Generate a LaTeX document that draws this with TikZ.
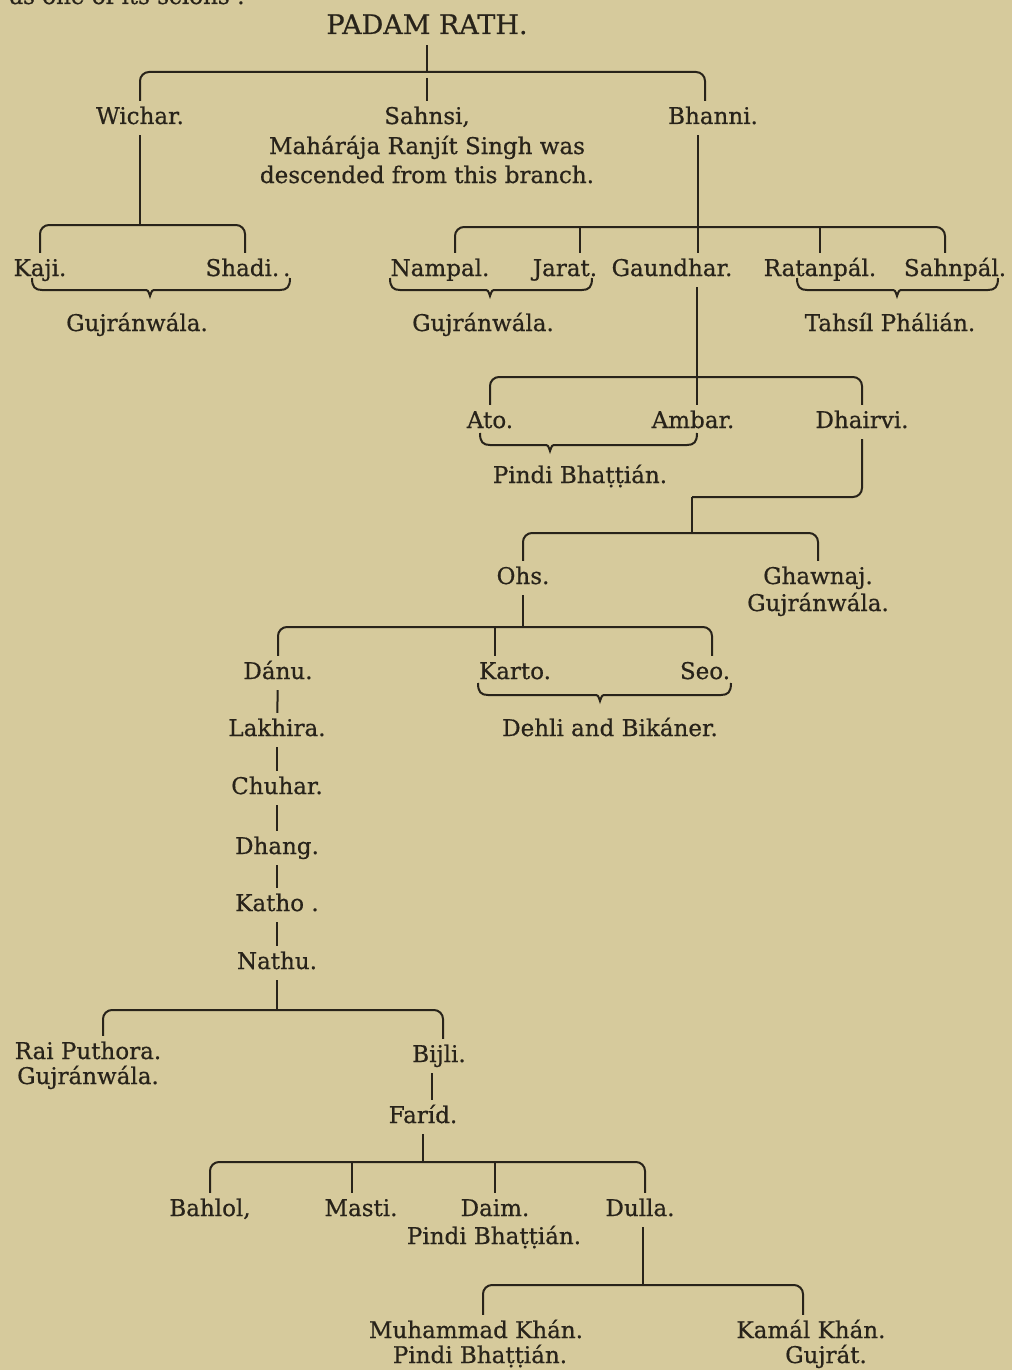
\documentclass[tikz,border=0pt]{standalone}
\usepackage{fontspec}
\setmainfont{DejaVu Serif}[FakeBold=0.6]
\usetikzlibrary{positioning}
\definecolor{paper}{RGB}{214, 202, 156}
\definecolor{ink}{RGB}{40, 35, 26}
% brace under a group of brothers: left, tip, right, height
\newcommand{\clan}[4]{%
  \draw[line] (#1,#4-12) .. controls (#1,#4-3) and (#1+3,#4) .. (#1+10,#4) -- (#2-6,#4)
    .. controls (#2-2,#4) .. (#2,#4+6) .. controls (#2+2,#4) .. (#2+6,#4) -- (#3-10,#4)
    .. controls (#3-3,#4) and (#3,#4-3) .. (#3,#4-12);}

\begin{document}
\begin{tikzpicture}[x=1pt, y=-1pt,
    kin/.style={inner xsep=2pt, inner ysep=6pt, text height=17pt, text depth=5pt, text=ink, font=\fontsize{23}{26}\selectfont},
    locality/.style={kin, inner ysep=1pt},
    line/.style={ink, line width=2pt},
    bar/.style={line, rounded corners=9pt}]

    % Paper
    \fill[paper] (0,0) rectangle (1012,1370);
    \useasboundingbox (0,0) rectangle (1012,1370);
    \node[kin, anchor=base east] (intro) at (247,4) {as one of its scions :};

    % Padam Rath and his sons
    \node[kin, font=\fontsize{27}{30}\selectfont] (padam) at (427,28) {PADAM RATH.};
    \coordinate (b0) at (427,72);
    \node[kin] (wichar) at (140,118) {Wichar.};
    \node[kin] (sahnsi) at (427,118) {Sahnsi,};
    \node[kin] (bhanni) at (713,118) {Bhanni.};
    \node[locality] (note1) at (427,148) {Mahárája Ranjít Singh was};
    \node[locality] (note2) at (427,177) {descended from this branch.};
    \draw[line] (padam) -- (b0);
    \draw[bar] (wichar.north) |- (b0) -| ([xshift=-8pt]bhanni.north);
    \draw[line] ([yshift=-6pt]b0) -- (sahnsi);

    % Wichar
    \coordinate (b1) at (140,225);
    \node[kin] (kaji) at (40,270) {Kaji.};
    \node[kin] (shadi) at (248,270) {Shadi.\,.};
    \draw[line] (wichar) -- (b1);
    \draw[bar] (kaji.north) |- (b1) -| ([xshift=-3pt]shadi.north);
    \clan{32}{150}{290}{290}
    \node[locality] (gujr1) at (137,325) {Gujránwála.};

    % Bhanni
    \coordinate (b2) at (698,227);
    \node[kin] (nampal) at (440,270) {Nampal.};
    \node[kin] (jarat) at (565,270) {Jarat.};
    \node[kin] (gaundhar) at (672,270) {Gaundhar.};
    \node[kin] (ratanpal) at (820,270) {Ratanpál.};
    \node[kin] (sahnpal) at (955,270) {Sahnpál.};
    \draw[line] (bhanni.south -| b2) -- (b2);
    \draw[bar] ([xshift=15pt]nampal.north) |- (b2) -| ([xshift=-10pt]sahnpal.north);
    \draw[line] ([xshift=15pt]jarat.north) -- ([xshift=15pt]jarat.north |- b2);
    \draw[line] (gaundhar.north -| b2) -- (b2);
    \draw[line] (ratanpal.north) -- (ratanpal.north |- b2);
    \clan{390}{490}{592}{290}
    \clan{797}{897}{998}{290}
    \node[locality] (gujr2) at (483,325) {Gujránwála.};
    \node[locality] (phalian) at (890,325) {Tahsíl Phálián.};

    % Gaundhar
    \coordinate (b3) at (697,377);
    \node[kin] (ato) at (490,422) {Ato.};
    \node[kin] (ambar) at (693,422) {Ambar.};
    \node[kin] (dhairvi) at (862,422) {Dhairvi.};
    \draw[line] (gaundhar.south -| b3) -- (b3);
    \draw[bar] (ato.north) |- (b3) -| (dhairvi.north);
    \draw[line] (b3) -- (ambar.north -| b3);
    \clan{480}{550}{697}{445}
    \node[locality] (pindi1) at (580,477) {Pindi Bhaṭṭián.};

    % Dhairvi
    \coordinate (j1) at (692,497);
    \coordinate (b4) at (692,533);
    \node[kin] (ohs) at (523,578) {Ohs.};
    \node[kin] (ghawnaj) at (818,578) {Ghawnaj.};
    \node[locality] (gujr3) at (818,605) {Gujránwála.};
    \draw[bar] (dhairvi) |- (j1);
    \draw[line] (j1) -- (b4);
    \draw[bar] (ohs.north) |- (b4) -| (ghawnaj.north);

    % Ohs
    \coordinate (b5) at (523,627);
    \node[kin] (danu) at (278,673) {Dánu.};
    \node[kin] (karto) at (515,673) {Karto.};
    \node[kin] (seo) at (705,673) {Seo.};
    \draw[line] (ohs) -- (b5);
    \draw[bar] (danu.north) |- (b5) -| ([xshift=7pt]seo.north);
    \draw[line] ([xshift=-20pt]karto.north) -- ([xshift=-20pt]karto.north |- b5);
    \clan{478}{600}{731}{695}
    \node[locality] (dehli) at (610,730) {Dehli and Bikáner.};

    % Danu down to Nathu
    \node[kin] (lakhira) at (277,730) {Lakhira.};
    \node[kin] (chuhar) at (277,788) {Chuhar.};
    \node[kin] (dhang) at (277,848) {Dhang.};
    \node[kin] (katho) at (277,905) {Katho .};
    \node[kin] (nathu) at (277,963) {Nathu.};
    \draw[line] (danu) -- (lakhira);
    \draw[line] (lakhira) -- (chuhar);
    \draw[line] (chuhar) -- (dhang);
    \draw[line] (dhang) -- (katho);
    \draw[line] (katho) -- (nathu);

    % Nathu
    \coordinate (b6) at (277,1010);
    \node[kin] (puthora) at (88,1053) {Rai Puthora.};
    \node[locality] (gujr4) at (88,1078) {Gujránwála.};
    \node[kin] (bijli) at (439,1056) {Bijli.};
    \draw[line] (nathu) -- (b6);
    \draw[bar] ([xshift=15pt]puthora.north) |- (b6) -| ([xshift=4pt]bijli.north);
    \node[kin] (farid) at (423,1117) {Faríd.};
    \draw[line] ([xshift=-7pt]bijli.south) -- ([xshift=9pt]farid.north);

    % Farid
    \coordinate (b7) at (423,1162);
    \node[kin] (bahlol) at (210,1210) {Bahlol,};
    \node[kin] (masti) at (361,1210) {Masti.};
    \node[kin] (daim) at (495,1210) {Daim.};
    \node[kin] (dulla) at (640,1210) {Dulla.};
    \node[locality] (pindi2) at (494,1238) {Pindi Bhaṭṭián.};
    \draw[line] (farid) -- (b7);
    \draw[bar] (bahlol.north) |- (b7) -| ([xshift=5pt]dulla.north);
    \draw[line] ([xshift=-9pt]masti.north) -- ([xshift=-9pt]masti.north |- b7);
    \draw[line] (daim.north) -- (daim.north |- b7);

    % Dulla
    \coordinate (b8) at (643,1285);
    \node[kin] (muhammad) at (476,1332) {Muhammad Khán.};
    \node[locality] (pindi3) at (480,1357) {Pindi Bhaṭṭián.};
    \node[kin] (kamal) at (811,1332) {Kamál Khán.};
    \node[locality] (gujrat) at (826,1357) {Gujrát.};
    \draw[line] ([xshift=3pt]dulla.south) -- (b8);
    \draw[bar] ([xshift=7pt]muhammad.north) |- (b8) -| ([xshift=-8pt]kamal.north);
\end{tikzpicture}
\end{document}
